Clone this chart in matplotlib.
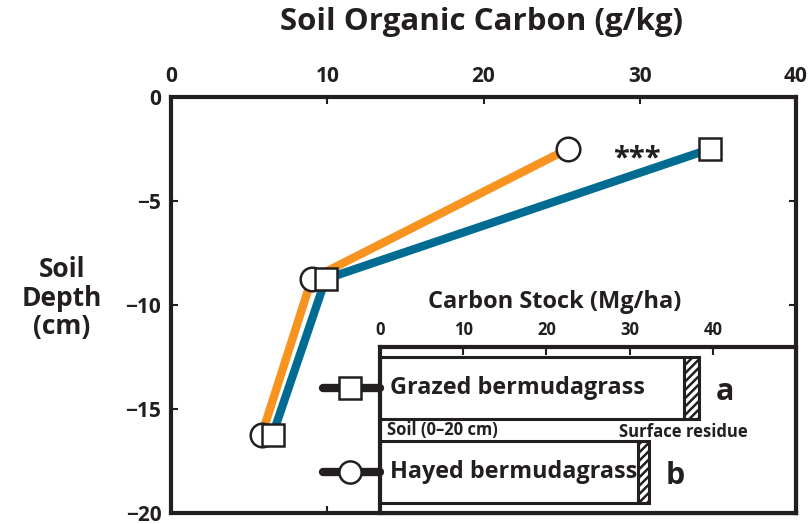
import numpy as np
from matplotlib import pyplot as plt

plt.rcParams['font.family'] = ['Open Sans', 'DejaVu Sans']
plt.rcParams['font.weight'] = 'bold'
plt.rcParams['hatch.linewidth'] = 1.8

# soil organic carbon by depth (g/kg)
depth = [-2.5, -8.75, -16.25]
soc_hayed = [25.4, 9.0, 5.8]
soc_grazed = [34.5, 9.9, 6.5]

# carbon stock (Mg/ha)
systems = ['Grazed bermudagrass', 'Hayed bermudagrass']
stock_soil = [36.5, 31.0]
stock_residue = [1.9, 1.3]
letters = ['a', 'b']

orange = '#F7931E'
blue = '#006C92'
ink = '#231F20'

fig = plt.figure(figsize=(8.11, 5.24), dpi=100)
W, H = 811, 524

def px_axes(x0, y0, x1, y1):
    return fig.add_axes([x0 / W, 1 - y1 / H, (x1 - x0) / W, (y1 - y0) / H])

ax = px_axes(171, 97, 796, 513)
ax.plot(soc_hayed, depth, color=orange, lw=6, solid_capstyle='butt', zorder=2)
ax.plot(soc_grazed, depth, color=blue, lw=6, solid_capstyle='butt', zorder=2)
ax.plot(soc_hayed, depth, 'o', ms=17, mfc='white', mec=ink, mew=1.8, zorder=3)
ax.plot(soc_grazed, depth, 's', ms=16, mfc='white', mec=ink, mew=1.8, zorder=4)
ax.text(29.8, -3.0, '***', fontsize=21, color=ink, ha='center', va='center')

ax.set_xlim(0, 40)
ax.set_ylim(-20, 0)
ax.set_xticks([0, 10, 20, 30, 40])
ax.set_yticks([0, -5, -10, -15, -20])
ax.set_yticklabels(['0', '\u22125', '\u221210', '\u221215', '\u221220'])
ax.xaxis.tick_top()
ax.tick_params(which='both', direction='in', length=5, width=1.5, color=ink,
               top=True, bottom=True, left=True, right=True,
               labeltop=True, labelbottom=False, labelsize=15, labelcolor=ink, pad=7)
for s in ax.spines.values():
    s.set_linewidth(3)
    s.set_color(ink)

fig.text(482 / W, 1 - 22 / H, 'Soil Organic Carbon (g/kg)', fontsize=22.5,
         ha='center', va='center', color=ink)
fig.text(62 / W, 1 - 298 / H, 'Soil\nDepth\n(cm)', fontsize=19, ha='center',
         va='center', color=ink, linespacing=1.05)

# carbon stock inset
ins = px_axes(380, 347, 796, 513)
ypos = np.arange(len(systems))
ins.barh(ypos, stock_soil, height=0.74, color='white', edgecolor=ink, lw=2.2)
ins.barh(ypos, stock_residue, left=stock_soil, height=0.74, color='white',
         edgecolor=ink, lw=2.2, hatch='////')
ins.set_xlim(0, 50)
ins.set_ylim(1.49, -0.49)
ins.set_xticks([0, 10, 20, 30, 40])
ins.set_yticks([])
ins.xaxis.tick_top()
ins.tick_params(axis='x', direction='in', length=6, width=1.5, color=ink,
                labelsize=12, labelcolor=ink, pad=6)
for s in ins.spines.values():
    s.set_linewidth(3)
    s.set_color(ink)
ins.set_title('Carbon Stock (Mg/ha)', fontsize=17, fontweight='bold', color=ink,
              pad=28, x=0.42)

for i, name in enumerate(systems):
    ins.text(1.2, i, name, fontsize=16.8, ha='left', va='center', color=ink)
    ins.text(stock_soil[i] + stock_residue[i] + 2.0, i + 0.05, letters[i],
             fontsize=22, ha='left', va='center', color=ink)
ins.text(0.8, 0.5, 'Soil (0\u201320 cm)', fontsize=12, ha='left', va='center', color=ink)
ins.text(44.2, 0.52, 'Surface residue', fontsize=12, ha='right', va='center', color=ink)

# legend keys to the left of the bars
for i, mk in enumerate(['s', 'o']):
    ins.plot([-6.8, 0], [i, i], color=ink, lw=6, solid_capstyle='round',
             clip_on=False, zorder=1)
    ins.plot([-3.6], [i], mk, ms=16, mfc='white', mec=ink, mew=1.8,
             clip_on=False, zorder=2)

fig.savefig('out.png', dpi=100)
